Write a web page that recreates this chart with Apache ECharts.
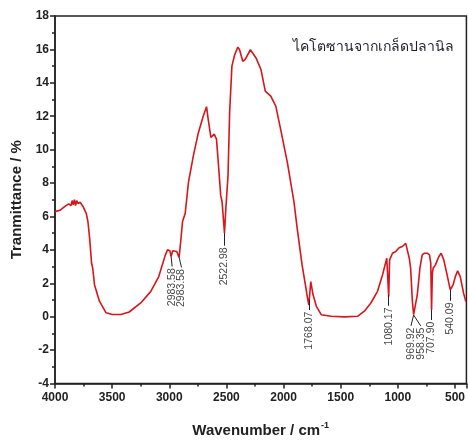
<!DOCTYPE html>
<html>
<head>
<meta charset="utf-8">
<script src="https://cdn.jsdelivr.net/npm/echarts@6/dist/echarts.min.js"></script>
<style>
  html, body { margin: 0; padding: 0; background: #fff; }
  #ftir { width: 468px; height: 443px; }
</style>
</head>
<body>
<div id="ftir"></div>
<script>
// spectrum (wavenumber cm-1, transmittance %)
var wavenumbers = [4000, 3957, 3913, 3880, 3860, 3850, 3840, 3830, 3820, 3810, 3798, 3780, 3755, 3726, 3712, 3697,
  3680, 3670, 3654, 3611, 3553, 3496, 3423, 3351, 3250, 3163, 3092, 3034, 3015, 2995, 2984, 2970, 2955, 2935, 2914,
  2900, 2884, 2861, 2832, 2789, 2746, 2703, 2674, 2659, 2636, 2607, 2587, 2567, 2550, 2538, 2517, 2506, 2486, 2472,
  2452, 2428, 2400, 2385, 2357, 2337, 2290, 2241, 2198, 2160, 2112, 2068, 2025, 1967, 1909, 1881, 1838, 1809, 1790,
  1779, 1762, 1742, 1713, 1670, 1583, 1467, 1350, 1293, 1236, 1178, 1134, 1097, 1085, 1080, 1072, 1047, 1018, 989,
  960, 931, 917, 900, 888, 873, 862, 845, 830, 807, 787, 767, 743, 723, 712, 705, 698, 691, 671, 641, 621, 598, 569,
  541, 517, 497, 477, 454, 425, 405];
var transmittance = [6.29, 6.37, 6.6, 6.75, 6.65, 6.95, 6.7, 7.0, 6.65, 6.95, 6.77, 6.85, 6.6, 6.17, 5.7, 4.7,
  3.2, 2.9, 1.9, 0.93, 0.23, 0.13, 0.13, 0.28, 0.82, 1.5, 2.4, 3.7, 4.0, 3.95, 3.6, 3.95, 4.05, 3.9, 3.55,
  4.5, 5.7, 6.17, 8.05, 9.64, 11.0, 12.0, 12.57, 11.8, 10.73, 10.93, 10.63, 8.85, 7.26, 6.88, 5.0, 6.37, 8.45, 12.2,
  15.0, 15.68, 16.14, 15.98, 15.29, 15.39, 15.98, 15.49, 14.8, 13.5, 13.2, 12.6, 11.2, 9.24, 6.87, 5.3, 3.1, 1.9, 1.1,
  0.7, 2.1, 1.31, 0.62, 0.12, 0.03, -0.01, 0.03, 0.33, 0.82, 1.52, 2.5, 3.5, 3.54, 1.2, 3.4, 3.8, 3.9, 4.13,
  4.2, 4.39, 4.29, 3.5, 2.9, 0.93, 0.12, 0.23, 1.3, 2.9, 3.7, 3.8, 3.8, 3.7, 3.2, 0.4, 2.6, 2.9, 3.1, 3.6, 3.8, 3.4, 2.5,
  1.6, 1.9, 2.4, 2.74, 2.4, 1.41, 0.9];

// peak annotations: text, dip position, where the text starts
var peakLabels = ['2983.58', '2983.58', '2522.98', '1768.07', '1080.17', '969.92', '958.35', '707.90', '540.09'];
var peakWn = [2984, 2914, 2517, 1779, 1080, 862, 862, 705, 541];
var peakY = [3.6, 3.55, 5.0, 1.0, 1.3, 0.1, 0.1, 0.4, 1.6];
var labelWn = [2975, 2893, 2517, 1779, 1080, 885, 800, 705, 541];
var labelY = [2.9, 2.85, 4.15, 0.3, 0.55, -0.65, -0.65, -0.3, 0.85];

var yTicks = { min: -4, max: 18, step: 2 };
var xTicks = { min: 400, max: 4000, step: 500 };

var spectrum = wavenumbers.map(function (w, i) { return [-w, transmittance[i]]; });
var labelPoints = labelWn.map(function (w, i) {
  return { value: [-w, labelY[i]], label: { formatter: peakLabels[i] } };
});
var leaders = peakWn.map(function (w, i) {
  return [{ coord: [-w, peakY[i]] }, { coord: [-labelWn[i], labelY[i] + 0.1] }];
});

var chart = echarts.init(document.getElementById('ftir'));
chart.setOption({
  animation: false,
  backgroundColor: '#fff',
  textStyle: { fontFamily: 'Arial, "Liberation Sans", sans-serif' },
  grid: {
    left: 55, right: -2, top: 16, bottom: 56.5,
    show: true, borderColor: '#222', borderWidth: 1.5
  },
  graphic: [{
    type: 'text', left: 293, top: 40,
    style: {
      text: 'ไคโตซานจากเกล็ดปลานิล',
      font: '14px Tahoma, "DejaVu Sans", "Noto Sans", sans-serif',
      fill: '#1e1e2a'
    }
  }],
  xAxis: {
    type: 'value',
    min: -xTicks.max, max: -xTicks.min, interval: xTicks.step,
    name: '{a|Wavenumber / cm}{s|-1}',
    nameLocation: 'middle', nameGap: 38,
    nameTextStyle: {
      rich: {
        a: { fontSize: 15, fontWeight: 'bold', color: '#222' },
        s: { fontSize: 9, fontWeight: 'bold', color: '#222', padding: [0, 0, 9, 1] }
      }
    },
    axisLine: { onZero: false, lineStyle: { color: '#222', width: 1.5 } },
    axisTick: { inside: false, length: 5, lineStyle: { color: '#222', width: 1.5 } },
    minorTick: { show: true, splitNumber: 2, length: 3, lineStyle: { color: '#222', width: 1.5 } },
    axisLabel: {
      formatter: function (v) { return String(-v); },
      showMaxLabel: false, margin: 8,
      fontSize: 12, fontWeight: 'bold', color: '#222'
    },
    splitLine: { show: false }
  },
  yAxis: {
    type: 'value',
    min: yTicks.min, max: yTicks.max, interval: yTicks.step,
    name: 'Tranmittance / %',
    nameLocation: 'middle', nameGap: 30,
    nameTextStyle: { fontSize: 15, fontWeight: 'bold', color: '#222' },
    axisLine: { onZero: false, lineStyle: { color: '#222', width: 1.5 } },
    axisTick: { inside: false, length: 5, lineStyle: { color: '#222', width: 1.5 } },
    minorTick: { show: true, splitNumber: 2, length: 3, lineStyle: { color: '#222', width: 1.5 } },
    axisLabel: { margin: 6, fontSize: 12, fontWeight: 'bold', color: '#222' },
    splitLine: { show: false }
  },
  series: [
    {
      name: 'FTIR',
      type: 'line',
      data: spectrum,
      showSymbol: false,
      clip: true,
      lineStyle: { color: '#d8141c', width: 1.6 },
      itemStyle: { color: '#d8141c' }
    },
    {
      name: 'peaks',
      type: 'scatter',
      data: labelPoints,
      symbolSize: 0,
      silent: true,
      label: {
        show: true, position: 'inside', rotate: 90,
        align: 'right', verticalAlign: 'middle',
        fontSize: 10.5, color: '#111'
      },
      markLine: {
        silent: true,
        symbol: ['none', 'none'],
        label: { show: false },
        lineStyle: { color: '#222', width: 1, type: 'solid' },
        data: leaders
      }
    }
  ]
});
</script>
</body>
</html>
